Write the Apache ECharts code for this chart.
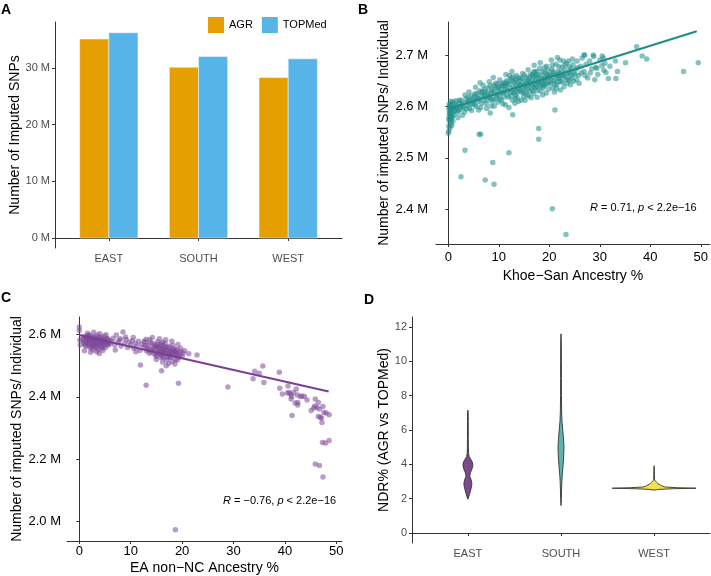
<!DOCTYPE html>
<html>
<head>
<meta charset="utf-8">
<script src="https://cdn.jsdelivr.net/npm/echarts@6/dist/echarts.min.js"></script>
<style>
html, body { margin: 0; padding: 0; background: #fff; }
#chart { width: 711px; height: 576px; }
</style>
</head>
<body>
<div id="chart"></div>
<script>
// A: imputed SNPs per region
const regions = ['EAST', 'SOUTH', 'WEST']
const agrSnps = [35.1, 30.1, 28.3]
const topmedSnps = [36.2, 32.0, 31.6]
const snpTicks = [0, 10, 20, 30]

// B: SNPs per individual vs Khoe-San ancestry (millions)
const pctTicks = [0, 10, 20, 30, 40, 50]
const bTicks = [2.4, 2.5, 2.6, 2.7]
const khoeSanPoints = [
  [0.1,2.598],[0.2,2.585],[0.3,2.571],[0.1,2.562],[0.4,2.605],[0.5,2.592],[0.2,2.579],[0.6,2.588],[0.3,2.601],[0.8,2.596],
  [0.1,2.575],[0.5,2.567],[0.7,2.582],[0.9,2.603],[0.2,2.593],[0.4,2.586],[1.0,2.590],[0.6,2.574],[0.3,2.558],[1.2,2.598],
  [0.8,2.580],[0.5,2.610],[1.4,2.592],[0.2,2.604],[0.9,2.571],
  [0.3,2.589],[0.6,2.597],[0.7,2.563],[1.1,2.584],[1.3,2.605],[0.4,2.578],[1.7,2.596],[2.0,2.592],[2.4,2.600],[0.9,2.609],
  [0.1,2.552],[0.5,2.581],
  [1.6,2.601],[1.8,2.588],[2.1,2.606],[2.3,2.594],[2.5,2.612],[2.7,2.599],[3.0,2.607],[3.2,2.589],[3.5,2.615],[3.7,2.602],
  [4.0,2.610],[4.2,2.596],[4.5,2.620],[4.8,2.605],[1.9,2.578],[2.8,2.583],[3.9,2.618],[4.6,2.592],[2.2,2.612],[3.3,2.622],
  [4.1,2.628],[1.5,2.611],[4.9,2.614],[3.6,2.595],[2.6,2.604],
  [3.1,2.598],[3.8,2.608],[4.4,2.603],[5.0,2.609],[5.5,2.600],[6.1,2.615],[6.6,2.606],[7.1,2.622],[7.7,2.612],[5.2,2.624],
  [6.8,2.630],[7.9,2.636],[4.3,2.612],[5.7,2.620],[7.4,2.628],
  [5.1,2.618],[5.3,2.603],[5.6,2.625],[5.9,2.610],[6.2,2.630],[6.4,2.598],[6.7,2.621],[7.0,2.612],[7.2,2.634],[7.5,2.605],
  [7.8,2.626],[8.0,2.618],[8.3,2.640],[8.5,2.601],[8.8,2.630],[9.0,2.614],[9.3,2.637],[9.6,2.622],[9.8,2.608],[5.4,2.637],
  [6.0,2.593],[6.9,2.641],[7.6,2.596],[8.1,2.648],[8.7,2.610],[9.4,2.645],[9.9,2.629],[5.8,2.615],[6.5,2.627],[7.3,2.619],
  [8.4,2.625],[9.1,2.601],[9.7,2.636],[8.9,2.656],[6.3,2.646],
  [8.2,2.620],[8.6,2.632],[9.2,2.626],[9.5,2.617],[10.0,2.637],[10.4,2.626],[10.8,2.642],[11.3,2.634],[11.8,2.645],[12.2,2.652],
  [12.7,2.628],[13.0,2.633],[13.4,2.652],[13.9,2.644],[9.0,2.641],[10.1,2.614],[11.0,2.618],[12.1,2.660],[13.1,2.626],[13.7,2.628],
  [8.5,2.615],[9.8,2.644],[11.4,2.641],[12.9,2.657],[13.3,2.615],
  [10.1,2.620],[10.3,2.634],[10.5,2.612],[10.7,2.645],[10.9,2.627],[11.1,2.639],[11.3,2.603],[11.5,2.650],[11.7,2.631],[11.9,2.618],
  [12.1,2.643],[12.3,2.627],[12.5,2.655],[12.7,2.612],[12.9,2.638],[13.1,2.647],[13.3,2.622],[13.5,2.660],[13.7,2.635],[13.9,2.610],
  [14.1,2.650],[14.3,2.628],[14.5,2.642],[14.7,2.664],[14.9,2.619],[10.2,2.652],[10.8,2.605],[11.4,2.662],[12.0,2.598],[12.6,2.668],
  [13.2,2.606],[13.8,2.655],[14.4,2.612],[14.8,2.637],[11.0,2.628],[12.2,2.635],[13.4,2.641],[14.0,2.633],[12.8,2.649],[11.6,2.622],
  [10.6,2.640],[13.6,2.618],[14.6,2.654],[12.4,2.620],[11.2,2.646],
  [14.2,2.641],[14.6,2.631],[15.0,2.648],[15.4,2.637],[15.8,2.652],[16.2,2.630],[16.6,2.661],[17.0,2.645],[17.4,2.660],[17.8,2.648],
  [18.2,2.641],[18.6,2.668],[19.0,2.650],[19.4,2.660],[19.8,2.645],[14.3,2.655],[15.1,2.661],[15.9,2.642],[16.7,2.630],[17.5,2.668],
  [18.3,2.630],[19.1,2.676],[14.9,2.626],[16.0,2.655],[17.2,2.636],[18.5,2.654],[19.7,2.670],[15.6,2.622],[16.9,2.666],[18.9,2.643],
  [15.1,2.641],[15.3,2.628],[15.5,2.656],[15.7,2.634],[15.9,2.620],[16.1,2.648],[16.3,2.662],[16.5,2.636],[16.7,2.652],[16.9,2.625],
  [17.1,2.668],[17.3,2.642],[17.5,2.657],[17.7,2.631],[17.9,2.646],[18.1,2.674],[18.3,2.639],[18.5,2.660],[18.7,2.622],[18.9,2.651],
  [19.1,2.667],[19.3,2.643],[19.5,2.678],[19.7,2.655],[19.9,2.634],[15.2,2.612],[15.8,2.671],[16.4,2.617],[17.0,2.680],[17.6,2.618],
  [18.2,2.685],[18.8,2.636],[19.4,2.626],[16.0,2.645],[16.6,2.640],[17.2,2.650],[17.8,2.662],[18.4,2.648],[19.0,2.640],[19.6,2.662],
  [15.4,2.646],[16.8,2.658],[18.0,2.653],[19.2,2.655],[17.4,2.636],
  [20.1,2.659],[20.3,2.645],[20.5,2.672],[20.7,2.636],[20.9,2.664],[21.1,2.651],[21.3,2.682],[21.5,2.642],[21.7,2.668],[21.9,2.655],
  [22.1,2.690],[22.3,2.648],[22.5,2.676],[22.7,2.660],[22.9,2.638],[23.1,2.671],[23.4,2.684],[23.7,2.652],[24.0,2.677],[24.3,2.660],
  [24.6,2.692],[24.9,2.665],[20.4,2.690],[21.0,2.628],[21.6,2.695],[22.2,2.632],[22.8,2.688],[23.5,2.645],[24.2,2.642],[20.2,2.662],
  [21.2,2.660],[22.0,2.665],[23.0,2.658],[23.9,2.664],[20.8,2.650],
  [20.3,2.655],[20.7,2.668],[21.1,2.643],[21.5,2.660],[21.9,2.677],[22.3,2.660],[22.7,2.648],[23.1,2.680],[23.5,2.665],[23.9,2.651],
  [24.3,2.673],[24.7,2.681],[25.1,2.662],[20.6,2.680],[21.4,2.635],[22.5,2.667],[23.3,2.656],[24.5,2.655],[21.8,2.648],[23.8,2.688],
  [25.6,2.675],[26.3,2.665],[20.0,2.648],[22.0,2.655],[24.1,2.668],
  [25.2,2.672],[25.5,2.688],[25.8,2.660],[26.2,2.678],[26.5,2.694],[26.9,2.668],[27.3,2.682],[27.6,2.655],[28.0,2.688],[28.4,2.673],
  [28.8,2.697],[29.2,2.676],[29.6,2.662],[30.0,2.690],[30.4,2.679],[30.8,2.670],[25.9,2.645],[27.0,2.700],[29.0,2.652],[30.5,2.698],
  [25.4,2.652],[24.8,2.649],[27.1,2.660],[29.4,2.674],[28.1,2.665],[28.7,2.700],[26.9,2.700],[30.7,2.694],[31.0,2.684],[31.2,2.666],
  [32.0,2.678],[31.7,2.654],[33.1,2.688],[33.5,2.668],[33.2,2.654],[35.1,2.685],[37.3,2.716],[38.4,2.698],[39.3,2.692],[46.6,2.668],
  [49.5,2.685],
  [0.0,2.548],[2.5,2.4635],[3.3,2.515],[6.1,2.546],[7.3,2.457],[8.8,2.491],[9.05,2.4485],[12.0,2.510],[17.9,2.557],[17.9,2.536],
  [20.6,2.401],[23.3,2.351],[21.1,2.593],[12.75,2.584],[8.3,2.587],[6.4,2.546]
]
const khoeSanFit = [[0, 2.595], [49.2, 2.746]]

// C: SNPs per individual vs EA non-NC ancestry (millions)
const cTicks = [2.0, 2.2, 2.4, 2.6]
const eaPoints = [
  [0.6,2.584],[0.9,2.571],[1.1,2.590],[1.3,2.562],[1.5,2.578],[1.7,2.595],[1.9,2.567],[2.1,2.583],[2.3,2.555],[2.5,2.574],
  [2.7,2.591],[2.9,2.561],[3.1,2.580],[3.3,2.569],[3.5,2.598],[3.7,2.552],[3.9,2.577],[4.1,2.588],[4.3,2.563],[4.5,2.581],
  [4.7,2.570],[4.9,2.594],[5.1,2.558],[5.3,2.576],[5.5,2.587],[5.7,2.566],[1.0,2.548],[1.6,2.604],[2.2,2.543],[2.8,2.607],
  [3.4,2.545],[4.0,2.602],[4.6,2.549],[5.2,2.599],[1.2,2.575],[1.8,2.582],[2.4,2.568],[2.6,2.579],[3.0,2.572],[3.2,2.586],
  [3.6,2.565],[3.8,2.583],[4.2,2.575],[4.4,2.592],[4.8,2.567],[5.0,2.578],[5.4,2.568],[2.0,2.560],[1.4,2.588],[3.9,2.539],
  [5.8,2.582],[6.0,2.571],[0.8,2.593],[2.7,2.550],[4.4,2.556],[1.9,2.598],[3.1,2.593],[3.5,2.557],[2.3,2.589],[4.7,2.584],
  [1.2,2.566],[1.6,2.585],[2.0,2.575],[2.4,2.580],[2.8,2.570],[3.2,2.577],[3.6,2.584],[4.0,2.569],[4.4,2.574],[4.8,2.578],
  [1.4,2.595],[2.2,2.595],[3.0,2.561],[3.8,2.591],[4.6,2.561],[5.4,2.585],[2.6,2.563],[3.4,2.576],[4.2,2.583],[1.8,2.572],
  [2.9,2.586],[3.7,2.571],[0.9,2.578],[5.6,2.574],
  [6.3,2.578],[6.6,2.588],[6.9,2.566],[7.2,2.598],[7.5,2.575],[7.8,2.582],[8.1,2.563],[8.5,2.608],[8.8,2.571],[9.1,2.584],
  [9.4,2.558],[9.7,2.576],[10.0,2.566],[10.3,2.580],[10.6,2.556],[10.9,2.572],[11.2,2.562],[11.5,2.578],[11.8,2.549],[12.1,2.568],
  [7.0,2.550],[9.0,2.592],[10.5,2.590],[11.0,2.545],[8.0,2.586],
  [12.5,2.560],[12.8,2.575],[13.1,2.548],[13.4,2.566],[13.7,2.583],[14.0,2.552],[14.3,2.570],[14.6,2.538],[14.9,2.561],[15.2,2.577],
  [15.5,2.545],[15.8,2.563],[16.1,2.530],[16.4,2.552],[16.7,2.571],[17.0,2.540],[17.3,2.558],[17.6,2.525],[17.9,2.547],[18.2,2.565],
  [18.5,2.533],[18.8,2.551],[19.1,2.518],[19.4,2.542],[19.7,2.556],[20.0,2.530],[13.0,2.585],[14.2,2.590],[15.0,2.520],[15.6,2.586],
  [16.2,2.512],[16.8,2.583],[17.4,2.507],[18.0,2.578],[18.6,2.505],[19.2,2.568],[13.6,2.540],[14.8,2.548],[15.4,2.558],[16.0,2.547],
  [16.6,2.538],[17.2,2.549],[17.8,2.536],[18.4,2.547],[19.0,2.535],[15.1,2.533],[16.3,2.565],[17.5,2.562],[18.7,2.520],[15.9,2.526],
  [17.1,2.528],[14.4,2.560],[13.3,2.556],[19.8,2.545],[20.2,2.540],[16.9,2.500],[18.9,2.540],[17.7,2.544],[16.5,2.557],[15.7,2.540],
  [14.9,2.530],[13.9,2.574],[12.9,2.565],[19.5,2.527],[18.3,2.555],[17.0,2.518],[16.2,2.575],[15.3,2.568],[14.1,2.543],[20.5,2.548],
  [21.3,2.538],[22.9,2.534],
  [14.5,2.553],[15.0,2.562],[15.5,2.555],[16.0,2.538],[16.5,2.545],[17.0,2.552],[17.5,2.541],[18.0,2.550],[18.5,2.545],[19.0,2.550],
  [15.3,2.540],[16.3,2.548],[17.3,2.535],[18.3,2.538],[16.8,2.560],[17.8,2.527],[15.7,2.552],[14.7,2.566],[19.3,2.533],[13.5,2.550],
  [12.6,2.578],[18.1,2.513],[16.4,2.525],[15.9,2.570],
  [0.0,2.624],[0.0,2.613],[0.1,2.582],[0.2,2.566],[11.9,2.502],[13.0,2.437],[19.3,2.444],[16.0,2.484],[18.7,1.974],
  [28.9,2.432],[34.1,2.482],[35.7,2.499],[35.9,2.446],[38.9,2.479],[39.0,2.428],[39.5,2.409],[40.6,2.435],[40.8,2.414],[41.1,2.409],
  [41.2,2.393],[41.7,2.414],[42.2,2.425],[42.4,2.406],[42.5,2.382],[42.5,2.374],[43.0,2.401],[43.3,2.403],[43.8,2.401],[44.3,2.390],
  [41.4,2.340],[45.1,2.356],[45.6,2.364],[45.9,2.393],[45.8,2.371],[46.2,2.366],[46.5,2.382],[46.7,2.361],[46.5,2.337],[46.9,2.335],
  [47.1,2.332],[47.4,2.369],[47.6,2.350],[48.0,2.348],[48.6,2.343],[47.2,2.318],[47.3,2.254],[47.9,2.252],[48.6,2.260],[45.9,2.185],
  [46.7,2.180],[47.4,2.143],[40.5,2.412],[42.0,2.380],[41.3,2.401],[35.0,2.476],[33.8,2.458]
]
const eaFit = [[0, 2.598], [48.5, 2.417]]

// D: NDR% violins (half-width in category units at each NDR level)
const ndrTicks = [0, 2, 4, 6, 8, 10, 12]
const eastNdrY = [1.97, 2.1, 2.3, 2.5, 2.7, 2.9, 3.1, 3.3, 3.5, 3.7, 3.85, 4.0, 4.15, 4.3, 4.45, 4.6, 5.0, 5.5, 6.0, 6.5, 7.0, 7.15]
const eastNdrW = [0, 0.009, 0.020, 0.030, 0.039, 0.043, 0.035, 0.020, 0.026, 0.042, 0.050, 0.053, 0.046, 0.030, 0.014, 0.008, 0.005, 0.0045, 0.0045, 0.004, 0.0035, 0]
const southNdrY = [1.6, 2.0, 2.5, 3.0, 3.5, 4.0, 4.5, 5.0, 5.5, 6.0, 6.5, 7.0, 8.0, 9.0, 10.0, 11.0, 11.6]
const southNdrW = [0, 0.004, 0.006, 0.009, 0.015, 0.023, 0.029, 0.032, 0.027, 0.019, 0.011, 0.007, 0.005, 0.0045, 0.0045, 0.0035, 0]
const westNdrY = [2.5, 2.54, 2.58, 2.61, 2.64, 2.68, 2.72, 2.76, 2.8, 2.85, 2.9, 2.95, 3.0, 3.05, 3.1, 3.2, 3.4, 3.6, 3.8, 3.92]
const westNdrW = [0, 0.05, 0.2, 0.45, 0.25, 0.12, 0.095, 0.08, 0.066, 0.05, 0.038, 0.028, 0.019, 0.011, 0.006, 0.0045, 0.004, 0.0035, 0.003, 0]

const violinY = [eastNdrY, southNdrY, westNdrY]
const violinW = [eastNdrW, southNdrW, westNdrW]
const violinColors = ['#7B4A8E', '#5AB5B0', '#F4E04D']

const font = 'Liberation Sans, Arial, Helvetica, sans-serif'
const chart = echarts.init(document.getElementById('chart'))

const axisLine = { show: true, lineStyle: { color: '#333', width: 1 } }
function ticks (vals) {
  return { show: true, length: 3, customValues: vals, lineStyle: { color: '#333' } }
}
function labels (vals, fmt, size, color, margin) {
  return { show: true, customValues: vals, formatter: fmt, fontSize: size, color: color, fontFamily: font, margin: margin }
}
const nameStyle = { fontSize: 14, color: '#000', fontFamily: font }
const barW = 0.325

function barRenderer (side, color) {
  return function (params, api) {
    const x = api.value(0)
    const left = side < 0 ? x - barW : x
    const p0 = api.coord([left, api.value(1)])
    const p1 = api.coord([left + barW, 0])
    return {
      type: 'rect',
      shape: { x: p0[0], y: p0[1], width: p1[0] - p0[0], height: p1[1] - p0[1] },
      style: { fill: color, stroke: 'rgba(255,255,255,0.6)', lineWidth: 0.8 }
    }
  }
}

function violinRenderer (params, api) {
  const i = params.dataIndex
  const cx = api.value(0)
  const ys = violinY[i]
  const ws = violinW[i]
  const pts = []
  for (let k = 0; k < ys.length; k++) pts.push(api.coord([cx + ws[k], ys[k]]))
  for (let k = ys.length - 1; k >= 0; k--) pts.push(api.coord([cx - ws[k], ys[k]]))
  return {
    type: 'polygon',
    shape: { points: pts },
    style: { fill: violinColors[i], stroke: '#333', lineWidth: 0.9 }
  }
}

const option = {
  animation: false,
  backgroundColor: '#fff',
  textStyle: { fontFamily: font },
  legend: {
    data: ['AGR', 'TOPMed'],
    left: 203,
    top: 12,
    icon: 'rect',
    itemWidth: 16,
    itemHeight: 16,
    itemGap: 9,
    textStyle: { fontSize: 11, color: '#000', fontFamily: font }
  },
  grid: [
    { left: 55, top: 22, width: 287, height: 226 },
    { left: 436, top: 22, width: 274, height: 222 },
    { left: 67, top: 317, width: 275, height: 225 },
    { left: 412, top: 317, width: 298, height: 226 }
  ],
  xAxis: [
    {
      gridIndex: 0, type: 'value', min: 0.4, max: 3.6,
      axisLine: axisLine, axisTick: ticks([1, 2, 3]), splitLine: { show: false },
      axisLabel: labels([1, 2, 3], v => regions[Math.round(v) - 1], 11, '#4D4D4D', 5)
    },
    {
      gridIndex: 1, type: 'value', min: -2.44, max: 51.8,
      axisLine: axisLine, axisTick: ticks(pctTicks), splitLine: { show: false },
      axisLabel: labels(pctTicks, v => String(v), 13, '#000', 7),
      name: 'Khoe\u2212San Ancestry %', nameLocation: 'middle', nameGap: 25, nameTextStyle: nameStyle
    },
    {
      gridIndex: 2, type: 'value', min: -2.39, max: 51.1,
      axisLine: axisLine, axisTick: ticks(pctTicks), splitLine: { show: false },
      axisLabel: labels(pctTicks, v => String(v), 13, '#000', 4),
      name: 'EA non\u2212NC Ancestry %', nameLocation: 'middle', nameGap: 20, nameTextStyle: nameStyle
    },
    {
      gridIndex: 3, type: 'value', min: 0.4, max: 3.6,
      axisLine: axisLine, axisTick: ticks([1, 2, 3]), splitLine: { show: false },
      axisLabel: labels([1, 2, 3], v => regions[Math.round(v) - 1], 11, '#4D4D4D', 5)
    }
  ],
  yAxis: [
    {
      gridIndex: 0, type: 'value', min: -1.76, max: 38.1,
      axisLine: axisLine, axisTick: ticks(snpTicks), splitLine: { show: false },
      axisLabel: labels(snpTicks, v => v + ' M', 11, '#4D4D4D', 5),
      name: 'Number of Imputed SNPs', nameLocation: 'middle', nameGap: 33, nameTextStyle: nameStyle
    },
    {
      gridIndex: 1, type: 'value', min: 2.3326, max: 2.764,
      axisLine: axisLine, axisTick: ticks(bTicks), splitLine: { show: false },
      axisLabel: labels(bTicks, v => v.toFixed(1) + ' M', 13, '#000', 8),
      name: 'Number of imputed SNPs/ Individual', nameLocation: 'middle', nameGap: 41, nameTextStyle: nameStyle
    },
    {
      gridIndex: 2, type: 'value', min: 1.938, max: 2.656,
      axisLine: axisLine, axisTick: ticks(cTicks), splitLine: { show: false },
      axisLabel: labels(cTicks, v => v.toFixed(1) + ' M', 13, '#000', 6),
      name: 'Number of imputed SNPs/ Individual', nameLocation: 'middle', nameGap: 43, nameTextStyle: nameStyle
    },
    {
      gridIndex: 3, type: 'value', min: -0.58, max: 12.58,
      axisLine: axisLine, axisTick: ticks(ndrTicks), splitLine: { show: false },
      axisLabel: labels(ndrTicks, v => String(v), 11, '#4D4D4D', 5),
      name: 'NDR% (AGR vs TOPMed)', nameLocation: 'middle', nameGap: 21, nameTextStyle: nameStyle
    }
  ],
  series: [
    {
      name: 'AGR', type: 'custom', xAxisIndex: 0, yAxisIndex: 0,
      itemStyle: { color: '#E69F00' },
      data: agrSnps.map((v, i) => [i + 1, v]),
      renderItem: barRenderer(-1, '#E69F00')
    },
    {
      name: 'TOPMed', type: 'custom', xAxisIndex: 0, yAxisIndex: 0,
      itemStyle: { color: '#56B4E9' },
      data: topmedSnps.map((v, i) => [i + 1, v]),
      renderItem: barRenderer(1, '#56B4E9')
    },
    {
      type: 'scatter', xAxisIndex: 1, yAxisIndex: 1,
      data: khoeSanPoints, symbolSize: 5.5,
      itemStyle: { color: '#21908C', opacity: 0.55 }
    },
    {
      type: 'line', xAxisIndex: 1, yAxisIndex: 1,
      data: khoeSanFit, symbol: 'none', z: 5,
      lineStyle: { color: '#1F8D86', width: 2 }
    },
    {
      type: 'scatter', xAxisIndex: 2, yAxisIndex: 2,
      data: eaPoints, symbolSize: 5.5,
      itemStyle: { color: '#7D4A99', opacity: 0.55 }
    },
    {
      type: 'line', xAxisIndex: 2, yAxisIndex: 2,
      data: eaFit, symbol: 'none', z: 5,
      lineStyle: { color: '#7A3E97', width: 2 }
    },
    {
      type: 'custom', xAxisIndex: 3, yAxisIndex: 3,
      data: [[1], [2], [3]],
      renderItem: violinRenderer
    }
  ],
  graphic: [
    { type: 'text', left: 1, top: 3, style: { text: 'A', font: 'bold 14px ' + font, fill: '#000' } },
    { type: 'text', left: 358, top: 3, style: { text: 'B', font: 'bold 14px ' + font, fill: '#000' } },
    { type: 'text', left: 1, top: 291, style: { text: 'C', font: 'bold 14px ' + font, fill: '#000' } },
    { type: 'text', left: 364, top: 293, style: { text: 'D', font: 'bold 14px ' + font, fill: '#000' } },
    {
      type: 'text', left: 590, top: 202,
      style: {
        text: '{i|R} = 0.71, {i|p} < 2.2e\u221216',
        fontSize: 11, fontFamily: font, fill: '#000',
        rich: { i: { fontStyle: 'italic', fontSize: 11, fontFamily: font } }
      }
    },
    {
      type: 'text', left: 223, top: 495,
      style: {
        text: '{i|R} = \u22120.76, {i|p} < 2.2e\u221216',
        fontSize: 11, fontFamily: font, fill: '#000',
        rich: { i: { fontStyle: 'italic', fontSize: 11, fontFamily: font } }
      }
    }
  ]
}

chart.setOption(option)
</script>
</body>
</html>
